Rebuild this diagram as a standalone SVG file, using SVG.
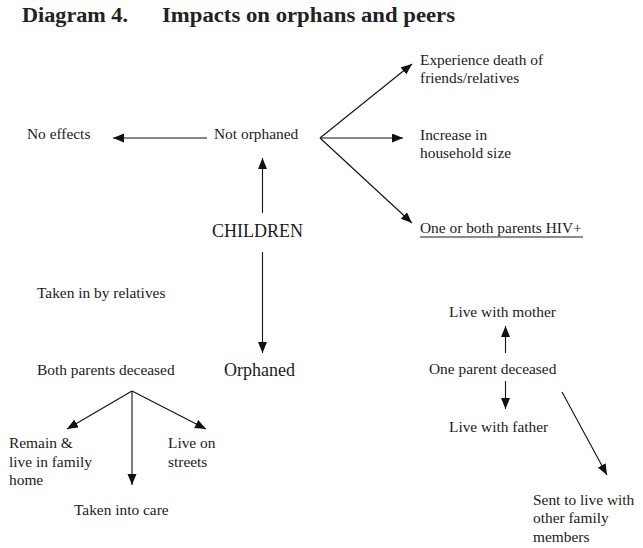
<svg xmlns="http://www.w3.org/2000/svg" width="643" height="548" viewBox="0 0 643 548">
<defs>
<style>
text{font-family:"Liberation Serif","Times New Roman",serif;fill:#1a1a1a;font-size:15.4px}
.title{font-weight:bold;font-size:20px;fill:#222}
.big{font-size:18px}
.c line{stroke:#111;stroke-width:1.1;fill:none;marker-end:url(#ah)}
</style>
<marker id="ah" markerUnits="userSpaceOnUse" markerWidth="12" markerHeight="10" refX="11" refY="4.5" orient="auto" viewBox="0 0 12 10">
<path d="M0,0 L11,4.5 L0,9 z" fill="#111"/>
</marker>
</defs>
<rect width="643" height="548" fill="#fff"/>
<g id="title">
<text class="title" x="22" y="22" textLength="106" lengthAdjust="spacingAndGlyphs">Diagram 4.</text>
<text class="title" x="162" y="22" textLength="293" lengthAdjust="spacingAndGlyphs">Impacts on orphans and peers</text>
</g>
<g class="c" id="connectors">
<line x1="207" y1="138" x2="113" y2="138"/>
<line x1="262.5" y1="213" x2="262.5" y2="158"/>
<line x1="262.5" y1="252" x2="262.5" y2="353"/>
<line x1="320" y1="138" x2="412" y2="64"/>
<line x1="320" y1="138" x2="403" y2="138"/>
<line x1="320" y1="138" x2="412" y2="223"/>
<line x1="132" y1="391" x2="67" y2="429"/>
<line x1="132" y1="391" x2="132" y2="485"/>
<line x1="132" y1="391" x2="206" y2="429"/>
<line x1="505.5" y1="353" x2="505.5" y2="326"/>
<line x1="505.5" y1="381" x2="505.5" y2="409"/>
<line x1="562" y1="392" x2="607" y2="475"/>
</g>
<g id="n-children"><text class="big" x="212" y="237">CHILDREN</text></g>
<g id="n-not-orphaned"><text x="214" y="139">Not orphaned</text></g>
<g id="n-no-effects"><text x="27" y="139">No effects</text></g>
<g id="n-experience"><text x="420" y="65">Experience death of</text><text x="420" y="83">friends/relatives</text></g>
<g id="n-increase"><text x="420" y="140">Increase in</text><text x="420" y="158">household size</text></g>
<g id="n-hiv"><text x="420" y="233">One or both parents HIV+</text><line x1="420" y1="237" x2="583" y2="237" stroke="#1a1a1a" stroke-width="1"/></g>
<g id="n-orphaned"><text class="big" x="224" y="376">Orphaned</text></g>
<g id="n-taken-in"><text x="37" y="298">Taken in by relatives</text></g>
<g id="n-both"><text x="37" y="375">Both parents deceased</text></g>
<g id="n-remain"><text x="9" y="448">Remain &amp;</text><text x="9" y="467">live in family</text><text x="9" y="485">home</text></g>
<g id="n-streets"><text x="168" y="448">Live on</text><text x="168" y="467">streets</text></g>
<g id="n-care"><text x="74" y="515">Taken into care</text></g>
<g id="n-mother"><text x="449" y="317">Live with mother</text></g>
<g id="n-one"><text x="429" y="374">One parent deceased</text></g>
<g id="n-father"><text x="449" y="432">Live with father</text></g>
<g id="n-sent"><text x="533" y="505">Sent to live with</text><text x="533" y="523">other family</text><text x="533" y="542">members</text></g>
</svg>
